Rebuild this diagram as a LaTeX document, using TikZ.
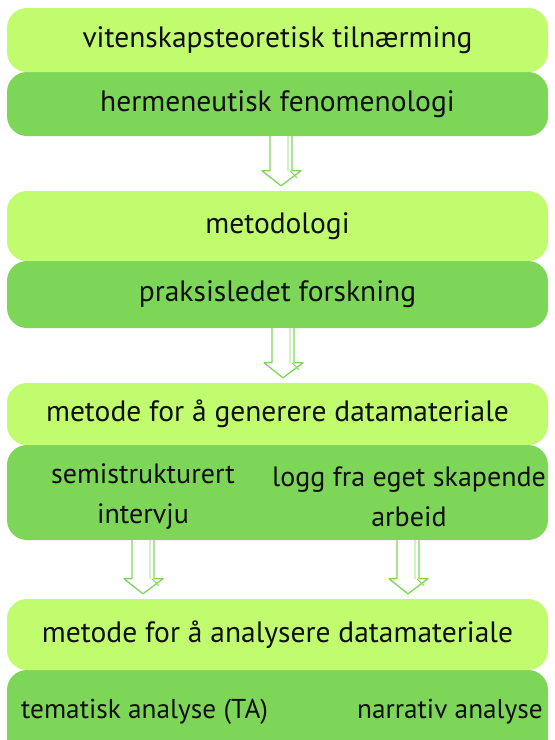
\documentclass[tikz,border=0pt]{standalone}
\usepackage{fontspec}
\setmainfont{PT Sans}
\usetikzlibrary{calc}
\definecolor{lightg}{RGB}{193,251,110}
\definecolor{darkg}{RGB}{126,214,88}
\definecolor{txt}{RGB}{15,15,15}
\tikzset{
  box/.style={rounded corners=20pt, minimum width=541pt, inner sep=0pt, text=txt, font=\fontsize{29.5}{34}\selectfont},
  lbox/.style={box, fill=lightg},
  dbox/.style={box, fill=darkg},
  lbl/.style={inner sep=0pt, text=txt, font=\fontsize{28}{34}\selectfont, align=center},
  sml/.style={lbl, font=\fontsize{27.3}{32}\selectfont},
  arr/.style={draw=darkg, line width=1.3pt, fill=white, line join=round},
  hatch/.style={draw=darkg, line width=0.8pt}
}
\newcommand{\blockarrow}[3]{% #1 x, #2 top node, #3 bottom node
  \draw[arr] let \p1=(#2.south), \p2=(#3.north) in
    (#1-11pt,\y1) -- (#1-11pt,\y2+20pt) -- (#1-19pt,\y2+20pt) -- (#1,\y2+5pt)
    -- (#1+20pt,\y2+20pt) -- (#1+11pt,\y2+20pt) -- (#1+11pt,\y1);
  \draw[hatch] let \p1=(#2.south), \p2=(#3.north) in
    (#1+7pt,\y1) -- (#1+7pt,\y2+20pt) (#1+9pt,\y2+20pt) -- (#1+16pt,\y2+13pt);
}
\begin{document}
\begin{tikzpicture}[x=1pt,y=-1pt]
\useasboundingbox (0,0) rectangle (555,740);
\clip (0,0) rectangle (555,740);
% row 1
\node[dbox, minimum height=64pt] (b2) at (277.5,104) {hermeneutisk fenomenologi};
\node[lbox, minimum height=64pt] (b1) at (277.5,40) {vitenskapsteoretisk tilnærming};
% row 2
\node[dbox, minimum height=67pt] (b4) at (277.5,294.5) {praksisledet forskning};
\node[lbox, minimum height=70pt] (b3) at (277.5,226) {metodologi};
% row 3
\node[dbox, minimum height=95pt] (b6) at (277.5,492.5) {};
\node[lbox, minimum height=62pt] (b5) at (277.5,414) {metode for å generere datamateriale};
\node[lbl] (t6a) at (143,497) {semistrukturert\\[6pt]intervju};
\node[lbl] (t6b) at (409,497) {logg fra eget skapende\\[6pt]arbeid};
% row 4
\node[dbox, minimum height=90pt] (b8) at (277.5,715) {};
\node[lbox, minimum height=71pt] (b7) at (277.5,634.5) {metode for å analysere datamateriale};
\node[sml, anchor=west] (t8a) at (21,712) {tematisk analyse (TA)};
\node[sml, anchor=east] (t8b) at (543,712) {narrativ analyse};
% arrows
\blockarrow{281pt}{b2}{b3}
\blockarrow{283pt}{b4}{b5}
\blockarrow{143pt}{b6}{b7}
\blockarrow{408pt}{b6}{b7}
\end{tikzpicture}
\end{document}
